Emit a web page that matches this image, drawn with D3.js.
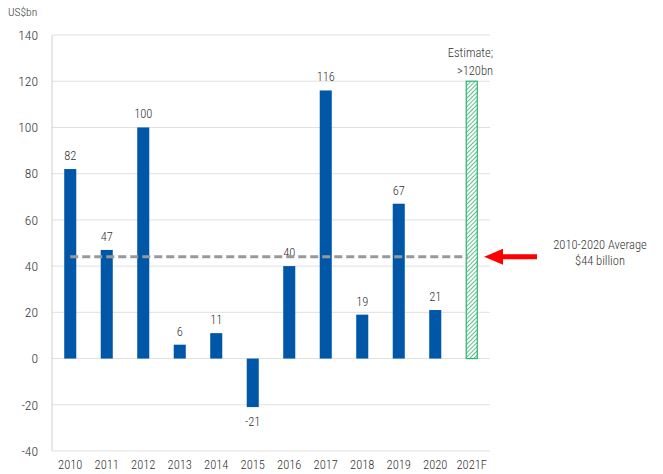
<!DOCTYPE html>
<html>
<head>
<meta charset="utf-8">
<script src="https://cdn.jsdelivr.net/npm/d3@7"></script>
<style>
  body { margin: 0; background: #fff; }
  svg text { font-family: "Roboto Condensed", "Roboto", sans-serif; font-weight: 300; fill: #333; }
</style>
</head>
<body>
<div id="chart"></div>
<script>
// data
var years = ["2010", "2011", "2012", "2013", "2014", "2015", "2016", "2017", "2018", "2019", "2020", "2021F"];
var values = [82, 47, 100, 6, 11, -21, 40, 116, 19, 67, 21, null];
var estimateValue = 120;
var averageValue = 44;
var yTicks = [-40, -20, 0, 20, 40, 60, 80, 100, 120, 140];

var width = 663, height = 474;
var margin = { left: 52, right: 173, top: 35, bottom: 23 };

var svg = d3.select("#chart").append("svg")
  .attr("width", width)
  .attr("height", height);

var defs = svg.append("defs");
var hatch = defs.append("pattern")
  .attr("id", "hatch")
  .attr("patternUnits", "userSpaceOnUse")
  .attr("width", 3)
  .attr("height", 3)
  .attr("patternTransform", "rotate(45)");
hatch.append("rect").attr("width", 3).attr("height", 3).attr("fill", "#fff");
hatch.append("line")
  .attr("x1", 0).attr("y1", 0).attr("x2", 0).attr("y2", 3)
  .attr("stroke", "#2db36b").attr("stroke-width", 1.6);

var x = d3.scaleBand()
  .domain(years)
  .range([margin.left, width - margin.right])
  .paddingInner(0.67)
  .paddingOuter(0.335);

var y = d3.scaleLinear()
  .domain([-40, 140])
  .range([height - margin.bottom, margin.top]);

// gridlines
svg.append("g")
  .selectAll("line")
  .data(yTicks)
  .enter()
  .append("line")
  .attr("x1", margin.left)
  .attr("x2", width - margin.right)
  .attr("y1", function(d) { return y(d); })
  .attr("y2", function(d) { return y(d); })
  .attr("stroke", "#e0e0e0")
  .attr("stroke-width", 1);

// y axis line
svg.append("line")
  .attr("x1", margin.left).attr("x2", margin.left)
  .attr("y1", y(140)).attr("y2", y(-40))
  .attr("stroke", "#d0d0d0");

// y tick labels
svg.append("g")
  .selectAll("text")
  .data(yTicks)
  .enter()
  .append("text")
  .attr("x", 38)
  .attr("y", function(d) { return y(d); })
  .attr("dy", "0.35em")
  .attr("text-anchor", "end")
  .attr("font-size", 13.5)
  .text(function(d) { return d; });

svg.append("text")
  .attr("x", 8)
  .attr("y", 16)
  .attr("font-size", 11.5)
  .text("US$bn");

// x labels
svg.append("g")
  .selectAll("text")
  .data(years)
  .enter()
  .append("text")
  .attr("x", function(d) { return x(d) + x.bandwidth() / 2; })
  .attr("y", 469)
  .attr("text-anchor", "middle")
  .attr("font-size", 12.5)
  .text(function(d) { return d; });

var actual = years.map(function(d, i) { return { year: d, value: values[i] }; })
  .filter(function(d) { return d.value !== null; });

// bars
svg.append("g")
  .selectAll("rect")
  .data(actual)
  .enter()
  .append("rect")
  .attr("x", function(d) { return x(d.year); })
  .attr("width", x.bandwidth())
  .attr("y", function(d) { return y(Math.max(0, d.value)); })
  .attr("height", function(d) { return Math.abs(y(d.value) - y(0)); })
  .attr("fill", "#0057a8");

// value labels
svg.append("g")
  .selectAll("text")
  .data(actual)
  .enter()
  .append("text")
  .attr("x", function(d) { return x(d.year) + x.bandwidth() / 2; })
  .attr("y", function(d) { return d.value >= 0 ? y(d.value) - 9 : y(d.value) + 19; })
  .attr("text-anchor", "middle")
  .attr("font-size", 12.5)
  .text(function(d) { return d.value; });

// estimate bar (hatched)
svg.append("rect")
  .attr("x", x("2021F") + 0.5)
  .attr("width", x.bandwidth() - 1)
  .attr("y", y(estimateValue))
  .attr("height", y(0) - y(estimateValue))
  .attr("fill", "url(#hatch)")
  .attr("stroke", "#2db36b")
  .attr("stroke-width", 1.2);

svg.append("text")
  .attr("x", 493)
  .attr("y", 57)
  .attr("text-anchor", "end")
  .attr("font-size", 12.5)
  .text("Estimate;");
svg.append("text")
  .attr("x", 493)
  .attr("y", 75)
  .attr("text-anchor", "end")
  .attr("font-size", 12.5)
  .text(">120bn");

// average line
svg.append("line")
  .attr("x1", x("2010") + x.bandwidth() / 2)
  .attr("x2", x("2021F") + 2)
  .attr("y1", y(averageValue))
  .attr("y2", y(averageValue))
  .attr("stroke", "#999")
  .attr("stroke-width", 3)
  .attr("stroke-dasharray", "8,4");

// arrow
var ay = y(averageValue);
svg.append("line")
  .attr("x1", 537).attr("x2", 500)
  .attr("y1", ay).attr("y2", ay)
  .attr("stroke", "#f00")
  .attr("stroke-width", 5);
svg.append("path")
  .attr("d", "M484," + ay + " L503," + (ay - 8) + " L503," + (ay + 8) + " Z")
  .attr("fill", "#f00");

svg.append("text")
  .attr("x", 600)
  .attr("y", 249)
  .attr("text-anchor", "middle")
  .attr("font-size", 12.5)
  .text("2010-2020 Average");
svg.append("text")
  .attr("x", 600)
  .attr("y", 265)
  .attr("text-anchor", "middle")
  .attr("font-size", 12.5)
  .text("$44 billion");
</script>
</body>
</html>
